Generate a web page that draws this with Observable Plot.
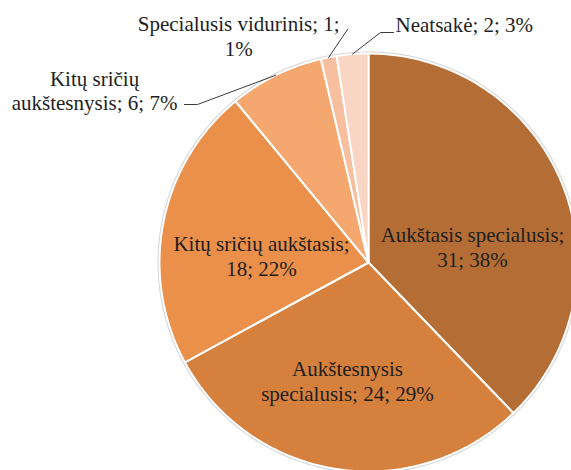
<!DOCTYPE html>
<html>
<head>
<meta charset="utf-8">
<script src="https://cdn.jsdelivr.net/npm/d3@7"></script>
<script src="https://cdn.jsdelivr.net/npm/@observablehq/plot@0.6"></script>
<style>
  html, body { margin: 0; padding: 0; background: #fff; }
  #chart svg { display: block; }
</style>
</head>
<body>
<div id="chart"></div>
<script>
// ---- Data ----
const categories = ["Aukštasis specialusis", "Aukštesnysis specialusis", "Kitų sričių aukštasis", "Kitų sričių aukštesnysis", "Specialusis vidurinis", "Neatsakė"];
const counts = [31, 24, 18, 6, 1, 2];
const percents = [38, 29, 22, 7, 1, 3];
const colors = ["#B46E35", "#D5803C", "#EA904A", "#F5A770", "#F7BFA0", "#F9D5C4"];

// ---- Layout ----
const W = 571, H = 470;
const CX = 368, CY = 262, R = 209;
// label placement: polar (deg clockwise from top, radius as fraction of R), word index after which to break line
const labelLayout = {
  "Aukštasis specialusis":    {angle: 81.0,  r: 0.504, anchor: "middle", breakAfter: 2},
  "Aukštesnysis specialusis": {angle: 190.1, r: 0.574, anchor: "middle", breakAfter: 1},
  "Kitų sričių aukštasis":    {angle: 273.5, r: 0.513, anchor: "middle", breakAfter: 3},
  "Kitų sričių aukštesnysis": {angle: 302.2, r: 1.549, anchor: "middle", breakAfter: 2},
  "Specialusis vidurinis":    {angle: 330.25, r: 1.252, anchor: "middle", breakAfter: 3},
  "Neatsakė":                 {angle: 6.46,  r: 1.148, anchor: "start",  breakAfter: null}
};
// leader elbows (pixel offsets in the frame), start point is derived from the slice
const leaderLayout = {
  "Kitų sričių aukštesnysis": [[197, 104], [184, 104]],
  "Specialusis vidurinis":    [[347, 29]],
  "Neatsakė":                 [[380, 32], [393, 32]]
};

const rows = categories.map((c, i) => ({category: c, count: counts[i], pct: percents[i]}));
const arcs = d3.pie().sort(null).value(d => d.count)(rows);
const pt = (a, r) => ({x: r * Math.sin(a), y: -r * Math.cos(a)});
const fromPx = ([px, py]) => ({x: (px - CX) / R, y: (py - CY) / R});

const slicePts = arcs.flatMap(arc => {
  const c = arc.data.category;
  const n = Math.max(2, Math.ceil((arc.endAngle - arc.startAngle) * 180 / Math.PI));
  const pts = [{...pt(0, 0), category: c}];
  for (let i = 0; i <= n; i++) {
    const a = arc.startAngle + (arc.endAngle - arc.startAngle) * i / n;
    pts.push({...pt(a, 1), category: c});
  }
  pts.push({...pt(0, 0), category: c});
  return pts;
});

const ringPts = d3.range(0, 361).map(d => ({...pt(d * Math.PI / 180, 1)}));

const labels = arcs.map(arc => {
  const d = arc.data, L = labelLayout[d.category];
  const full = `${d.category}; ${d.count}; ${d.pct}%`;
  const words = full.split(" ");
  const text = L.breakAfter == null ? full :
    words.slice(0, L.breakAfter).join(" ") + "\n" + words.slice(L.breakAfter).join(" ");
  return {...pt(L.angle * Math.PI / 180, L.r), text, anchor: L.anchor, category: d.category};
});

const leaderPts = arcs.filter(a => leaderLayout[a.data.category]).flatMap(arc => {
  const c = arc.data.category;
  const mid = (arc.startAngle + arc.endAngle) / 2;
  return [{...pt(mid, 1.0), category: c}, ...leaderLayout[c].map(p => ({...fromPx(p), category: c}))];
});

const textOpts = {x: "x", y: "y", text: "text", fontSize: 21, lineHeight: 1.19,
  fontFamily: "Liberation Serif", fill: "#1e1e1e"};

const chart = Plot.plot({
  width: W, height: H, margin: 0,
  x: {domain: [-CX / R, (W - CX) / R], range: [0, W], axis: null},
  y: {domain: [-CY / R, (H - CY) / R], range: [0, H], axis: null},
  color: {domain: categories, range: colors},
  marks: [
    Plot.line(ringPts, {x: "x", y: "y", stroke: "#d4d4d4", strokeWidth: 4}),
    Plot.line(slicePts, {x: "x", y: "y", z: "category", fill: "category", stroke: "white", strokeWidth: 2, strokeLinejoin: "round"}),
    Plot.line(leaderPts, {x: "x", y: "y", z: "category", stroke: "#3a3a3a", strokeWidth: 1}),
    Plot.text(labels.filter(d => d.anchor === "middle"), {...textOpts, textAnchor: "middle"}),
    Plot.text(labels.filter(d => d.anchor === "start"), {...textOpts, textAnchor: "start"})
  ]
});
document.getElementById("chart").appendChild(chart);
</script>
</body>
</html>
